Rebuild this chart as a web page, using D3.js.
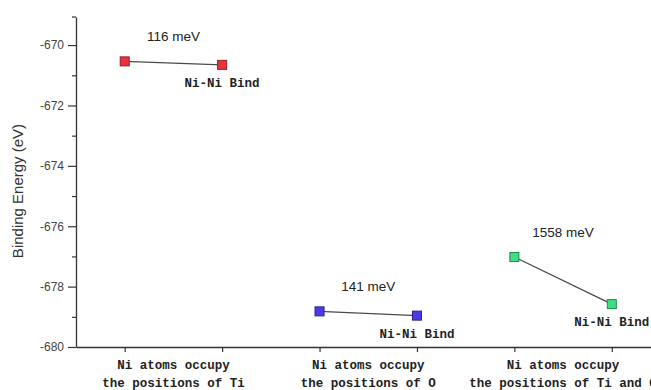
<!DOCTYPE html>
<html><head><meta charset="utf-8">
<script src="https://cdn.jsdelivr.net/npm/d3@7"></script>
<style>body{margin:0;background:#fff;}svg{display:block;}</style>
</head><body>
<script>
// ---- data ----
const groups = ["Ti", "O", "TiO"];
const groupLabels1 = ["Ni atoms occupy", "Ni atoms occupy", "Ni atoms occupy"];
const groupLabels2 = ["the positions of Ti", "the positions of O", "the positions of Ti and O"];
const startValues = [-670.54, -678.82, -677.02];
const endValues = [-670.656, -678.961, -678.578];
const diffLabels = ["116 meV", "141 meV", "1558 meV"];
const endLabels = ["Ni-Ni Bind", "Ni-Ni Bind", "Ni-Ni Bind"];
const colors = ["#e8323c", "#4f3be6", "#3ede86"];
const strokeColors = ["#9a1c22", "#2a1f8c", "#1f8a4a"];
const yTicks = [-680, -678, -676, -674, -672, -670];
const yMinorTicks = [-679, -677, -675, -673, -671];

const W = 651, H = 390;
const svg = d3.select("body").append("svg").attr("width", W).attr("height", H);

const x = d3.scaleLinear().domain([0.5, 6.5]).range([76, 660.5]);
const y = d3.scaleLinear().domain([-680, -669.07]).range([347, 17]);

// y axis
const yAxis = d3.axisLeft(y).tickValues(yTicks).tickSize(8).tickSizeOuter(0).tickPadding(4)
  .tickFormat(d => d.toString().replace("-", "-"));
const gy = svg.append("g").attr("transform", "translate(76,0)").call(yAxis);
gy.selectAll("text").attr("font-family", "Liberation Sans, Arial, sans-serif").attr("font-size", 12).attr("fill", "#444");
gy.selectAll("line").attr("stroke", "#333").attr("stroke-width", 1.2);
gy.select(".domain").attr("stroke", "#333").attr("stroke-width", 1.3);
const gym = svg.append("g").attr("transform", "translate(76,0)")
  .call(d3.axisLeft(y).tickValues(yMinorTicks).tickSize(4).tickSizeOuter(0).tickFormat(""));
gym.select(".domain").remove();
gym.selectAll("line").attr("stroke", "#333").attr("stroke-width", 1.2);
// top end nub
svg.append("line").attr("x1", 72).attr("x2", 76).attr("y1", y(-669.07)).attr("y2", y(-669.07))
  .attr("stroke", "#333").attr("stroke-width", 1.2);

// x axis
const xAxis = d3.axisBottom(x).tickValues([1,2,3,4,5,6]).tickSize(5).tickSizeOuter(0).tickFormat("");
const gx = svg.append("g").attr("transform", "translate(0,347)").call(xAxis);
gx.selectAll("line").attr("stroke", "#333").attr("stroke-width", 1.2);
gx.select(".domain").attr("stroke", "#333").attr("stroke-width", 1.3);

const monoFont = "Liberation Mono, DejaVu Sans Mono, monospace";
groups.forEach((g, i) => {
  const cx = x(2 * i + 1.5);
  svg.append("text").attr("x", cx).attr("y", 369).attr("text-anchor", "middle")
    .attr("font-family", monoFont).attr("font-weight", "bold").attr("font-size", 12.5).attr("fill", "#222")
    .text(groupLabels1[i]);
  svg.append("text").attr("x", cx).attr("y", 387).attr("text-anchor", "middle")
    .attr("font-family", monoFont).attr("font-weight", "bold").attr("font-size", 12.5).attr("fill", "#222")
    .text(groupLabels2[i]);
});

// y title
svg.append("text").attr("transform", "translate(23,191) rotate(-90)").attr("text-anchor", "middle")
  .attr("font-family", "Liberation Sans, Arial, sans-serif").attr("font-size", 15).attr("fill", "#333")
  .text("Binding Energy (eV)");

// series
const sq = 9;
groups.forEach((g, i) => {
  const x1 = x(2 * i + 1), x2 = x(2 * i + 2);
  const y1 = y(startValues[i]), y2 = y(endValues[i]);
  svg.append("line").attr("x1", x1).attr("y1", y1).attr("x2", x2).attr("y2", y2)
    .attr("stroke", "#4a4a4a").attr("stroke-width", 1.3);
  [[x1, y1], [x2, y2]].forEach(([px, py]) => {
    svg.append("rect").attr("x", px - sq / 2).attr("y", py - sq / 2).attr("width", sq).attr("height", sq)
      .attr("fill", colors[i]).attr("stroke", strokeColors[i]).attr("stroke-width", 1);
  });
  svg.append("text").attr("x", (x1 + x2) / 2).attr("y", Math.min(y1, y2) - 20).attr("text-anchor", "middle")
    .attr("font-family", "Liberation Sans, Arial, sans-serif").attr("font-size", 13.5).attr("fill", "#222")
    .text(diffLabels[i]);
  svg.append("text").attr("x", x2).attr("y", y2 + 22).attr("text-anchor", "middle")
    .attr("font-family", monoFont).attr("font-weight", "bold").attr("font-size", 12.5).attr("fill", "#222")
    .text(endLabels[i]);
});
</script>
</body></html>
